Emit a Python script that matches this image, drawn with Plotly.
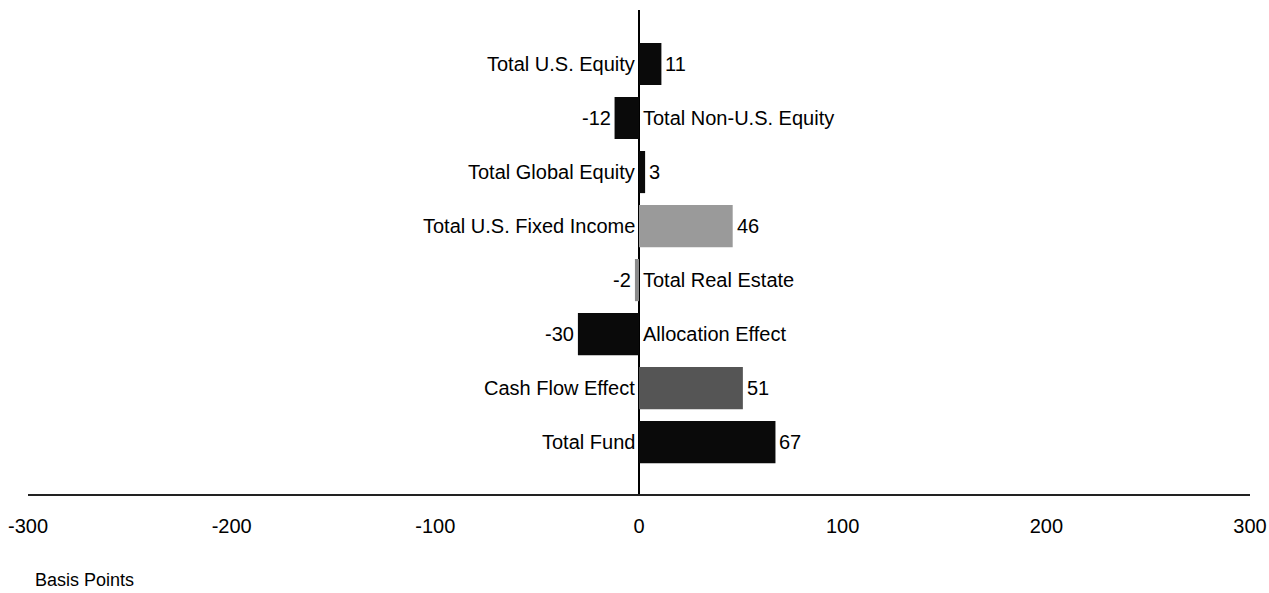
import plotly.graph_objects as go

# attribution data (basis points)
categories = ["Total U.S. Equity", "Total Non-U.S. Equity", "Total Global Equity",
              "Total U.S. Fixed Income", "Total Real Estate", "Allocation Effect",
              "Cash Flow Effect", "Total Fund"]
values = [11, -12, 3, 46, -2, -30, 51, 67]
bar_colors = ["#0a0a0a", "#0a0a0a", "#0a0a0a", "#9a9a9a",
              "#8a8a8a", "#0a0a0a", "#555555", "#0a0a0a"]
tick_vals = [-300, -200, -100, 0, 100, 200, 300]
tick_text = ["-300", "-200", "-100", "0", "100", "200", "300"]

FONT = "Liberation Sans Narrow, Arial Narrow, Liberation Sans, sans-serif"

fig = go.Figure(go.Bar(
    x=values, y=categories, orientation="h",
    marker=dict(color=bar_colors, line=dict(width=0)),
    width=0.78, hoverinfo="x+y",
))

# category label on the side opposite the bar, value at the bar end
annotations = []
for cat, v in zip(categories, values):
    if v >= 0:
        annotations.append(dict(x=0, y=cat, text=cat, xanchor="right", xshift=-2,
                                showarrow=False))
        annotations.append(dict(x=v, y=cat, text=str(v), xanchor="left", xshift=2,
                                showarrow=False))
    else:
        annotations.append(dict(x=0, y=cat, text=cat, xanchor="left", xshift=2,
                                showarrow=False))
        annotations.append(dict(x=v, y=cat, text=str(v), xanchor="right", xshift=-2,
                                showarrow=False))

annotations.append(dict(x=0, y=0, xref="paper", yref="paper", text="Basis Points",
                        xanchor="left", yanchor="middle", xshift=5, yshift=-86,
                        showarrow=False, font=dict(size=18)))

fig.update_layout(
    width=1269, height=593,
    margin=dict(l=28, r=19, t=10, b=99),
    paper_bgcolor="white", plot_bgcolor="white",
    font=dict(family=FONT, size=20, color="black"),
    showlegend=False,
    annotations=annotations,
    xaxis=dict(range=[-300, 300], tickvals=tick_vals, ticktext=tick_text, ticks="",
               showgrid=False, zeroline=True, zerolinecolor="black", zerolinewidth=1.5,
               showline=True, linecolor="#222222", linewidth=1.5, automargin=False,
               ticklabelstandoff=13, ticklabeloverflow="allow", tickfont=dict(size=20)),
    yaxis=dict(type="category", categoryorder="array", categoryarray=categories,
               range=[7.96, -1.0], showticklabels=False, ticks="", automargin=False,
               showgrid=False, zeroline=False, showline=False),
)

# drop the default 8px body margin so the figure fills the window exactly
fig.write_html("out.html", config={"displayModeBar": False},
               post_script="document.body.style.margin='0';"
                           "document.body.style.overflow='hidden';")
